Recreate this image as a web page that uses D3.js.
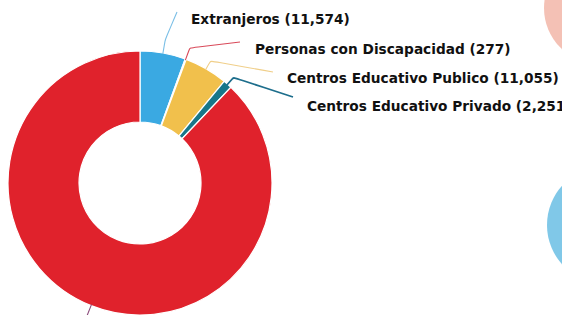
<!DOCTYPE html>
<html>
<head>
<meta charset="utf-8">
<script src="https://cdn.jsdelivr.net/npm/d3@7"></script>
<style>
  html, body { margin: 0; padding: 0; background: #fff; }
  svg { display: block; }
</style>
</head>
<body>
<svg id="chart" width="562" height="315"></svg>
<script>
// ---- data ----
const categories = [
  "Extranjeros",
  "Personas con Discapacidad",
  "Centros Educativo Publico",
  "Centros Educativo Privado",
  "Otros"
];
const values = [11574, 277, 11055, 2251, 183000];
const labels = [
  "Extranjeros (11,574)",
  "Personas con Discapacidad (277)",
  "Centros Educativo Publico (11,055)",
  "Centros Educativo Privado (2,251)",
  ""
];
const colors = ["#3aa9e2", "#e0222c", "#f1c04c", "#17778a", "#e0222c"];
const lineColors = ["#7bbfe6", "#d94a5a", "#f0cf8a", "#1d6e8c", "#8a4a7a"];

// ---- layout ----
const svg = d3.select("#chart");
const cx = 140, cy = 183, rOuter = 132, rInner = 61;

// decorative partial circles from neighbouring charts
svg.append("circle").attr("cx", 600).attr("cy", 8).attr("r", 56).attr("fill", "#f2b6a8").attr("opacity", 0.85);
svg.append("circle").attr("cx", 606).attr("cy", 225).attr("r", 59).attr("fill", "#72c2e6").attr("opacity", 0.9);

const g = svg.append("g").attr("transform", `translate(${cx},${cy})`);

const pie = d3.pie().sort(null).value(d => d.v).startAngle(0).endAngle(2 * Math.PI);
const data = categories.map((c, i) => ({ c, v: values[i], i }));
const arcs = pie(data);

const arc = d3.arc().innerRadius(rInner).outerRadius(rOuter);

g.selectAll("path.slice")
  .data(arcs)
  .join("path")
  .attr("class", "slice")
  .attr("d", arc)
  .attr("fill", d => colors[d.data.i])
  .attr("stroke", "#fff")
  .attr("stroke-width", 1.2);

// label anchors (text start, baseline) in page coords
const labelPos = [
  { x: 191, y: 24, ex: 177, ey: 12, el: 14 },
  { x: 255, y: 54, ex: 240, ey: 42, el: 12 },
  { x: 287, y: 83, ex: 273, ey: 72, el: 9 },
  { x: 307, y: 111, ex: 293, ey: 97, el: 9 }
];

const pt = (a, r) => [Math.sin(a) * r, -Math.cos(a) * r];
const line = d3.line().curve(d3.curveBasis);

arcs.forEach((d, k) => {
  const mid = (d.startAngle + d.endAngle) / 2;
  if (k < 4) {
    const lp = labelPos[k];
    const p0 = pt(mid, rOuter - 1);
    const p1 = pt(mid, rOuter + lp.el);
    const p2 = [lp.ex - cx, lp.ey - cy];
    g.append("path")
      .attr("d", line([p0, p1, p1, p2]))
      .attr("fill", "none")
      .attr("stroke", lineColors[k])
      .attr("stroke-width", k === 3 ? 1.8 : 1.1);
    svg.append("text")
      .attr("x", lp.x).attr("y", lp.y)
      .attr("font-family", "DejaVu Sans")
      .attr("font-weight", "bold")
      .attr("font-size", 13.7)
      .attr("fill", "#111")
      .text(labels[k]);
  } else {
    const p0 = pt(mid, rOuter - 1);
    const p1 = pt(mid, rOuter + 20);
    g.append("path")
      .attr("d", d3.line()([p0, p1]))
      .attr("fill", "none")
      .attr("stroke", lineColors[k])
      .attr("stroke-width", 1.1);
  }
});
</script>
</body>
</html>
